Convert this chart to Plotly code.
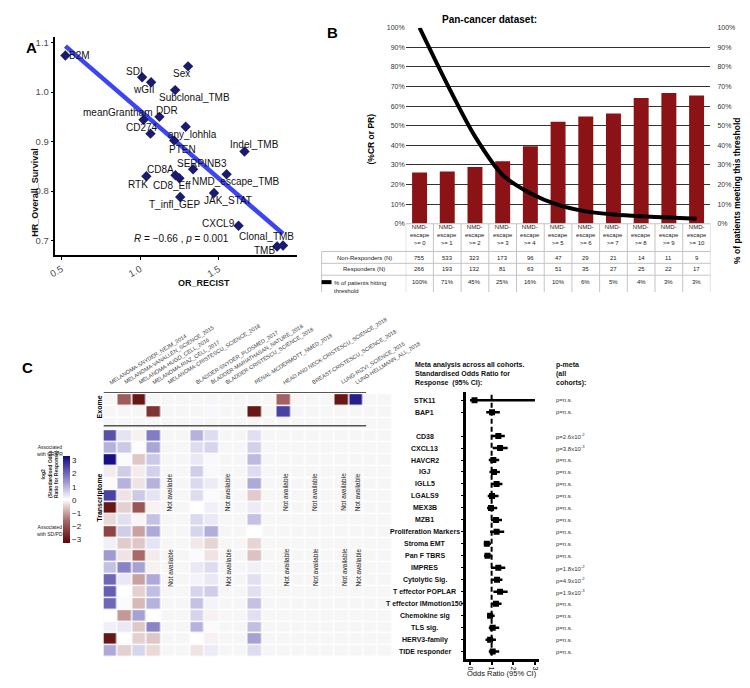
import numpy as np
import plotly.graph_objects as go

W, H = 750, 688
def PX(x): return x / W
def PY(y): return 1 - y / H
ARIAL = "Liberation Sans, Arial, Helvetica, sans-serif"

# ---------------- Panel A data ----------------
a_labels = ["B2M", "SDI", "wGII", "Sex", "Subclonal_TMB", "DDR", "meanGrantham", "CD274",
            "any_lohhla", "PTEN", "Indel_TMB", "SERPINB3", "NMD_escape_TMB", "CD8A", "CD8_Eff",
            "RTK", "T_infl_GEP", "JAK_STAT", "CXCL9", "Clonal_TMB", "TMB"]
a_or_recist = [0.525, 1.013, 1.070, 1.305, 1.223, 1.123, 1.022, 1.066, 1.290, 1.217, 1.664,
               1.337, 1.550, 1.225, 1.250, 1.040, 1.255, 1.470, 1.626, 1.871, 1.909]
a_hr_os = [1.074, 1.030, 1.020, 1.052, 1.004, 0.950, 0.944, 0.916, 0.930, 0.902, 0.880,
           0.844, 0.834, 0.832, 0.826, 0.830, 0.788, 0.796, 0.730, 0.688, 0.690]
a_xticks = [0.5, 1.0, 1.5]
a_yticks = [0.7, 0.8, 0.9, 1.0, 1.1]
a_stat = "<i>R</i> = −0.66 , <i>p</i> = 0.001"

# ---------------- Panel B data ----------------
b_threshold = [0, 1, 2, 3, 4, 5, 6, 7, 8, 9, 10]
b_response_rate = [26.1, 26.6, 29.0, 31.9, 39.6, 52.0, 54.7, 56.3, 64.1, 66.7, 65.4]
b_meeting = [100.0, 71.1, 44.6, 24.9, 15.6, 9.6, 6.3, 4.7, 3.8, 3.2, 2.5]
b_nonresp = [755, 533, 323, 173, 96, 47, 29, 21, 14, 11, 9]
b_resp = [266, 193, 132, 81, 63, 51, 35, 27, 25, 22, 17]
b_meeting_label = ["100%", "71%", "45%", "25%", "16%", "10%", "6%", "5%", "4%", "3%", "3%"]
b_yticks = [0, 10, 20, 30, 40, 50, 60, 70, 80, 90, 100]

# ---------------- Panel C data ----------------
c_datasets = ["MELANOMA-SNYDER_NEJM_2014", "MELANOMA-VANALLEN_SCIENCE_2015",
              "MELANOMA-HUGO_CELL_2016", "MELANOMA-RIAZ_CELL_2017",
              "MELANOMA-CRISTESCU_SCIENCE_2018", "BLADDER-SNYDER_PLOSMED_2017",
              "BLADDER-MARIATHASAN_NATURE_2018", "BLADDER-CRISTESCU_SCIENCE_2018",
              "RENAL-MCDERMOTT_NMED_2018", "HEAD AND NECK-CRISTESCU_SCIENCE_2018",
              "BREAST-CRISTESCU_SCIENCE_2018", "LUNG-RIZVI_SCIENCE_2015", "LUNG-HELLMANN_ALL_2018"]
c_exome_genes = ["STK11", "BAP1"]
c_trans_features = ["CD38", "CXCL13", "HAVCR2", "IGJ", "IGLL5", "LGALS9", "MEX3B", "MZB1",
                    "Proliferation Markers", "Stroma EMT", "Pan F TBRS", "IMPRES", "Cytolytic Sig.",
                    "T effector POPLAR", "T effector IMmotion150", "Chemokine sig", "TLS sig.",
                    "HERV3-family", "TIDE responder"]
c_exome_stk11 = [None, -1.8, -3.0, None, None, None, None, None, None, -1.7, None, -3.0, 3.0]
c_exome_bap1 = [None, None, None, -2.5, None, None, 0.1, None, -3.0, 2.5, None, None, None]
t_mel_snyder = [2.3, 1.0, 3.2, -0.2, -0.05, 2.5, -3.0, -0.4, -2.2, 0.2, 1.3, 0.8, 2.0, 2.1, 2.0, 0.0, 0.2, -3.0, 1.1]
t_mel_vanallen = [0.35, 0.7, 0.05, 0.65, 1.0, -0.3, -0.5, 0.4, 0.65, -0.55, -0.3, 1.6, 0.3, 0.0, 0.05, -1.1, 0.3, 0.0, -0.5]
t_mel_hugo = [-0.15, 0.03, -0.6, -0.2, -0.3, 0.7, -1.9, -0.1, -1.0, -0.6, -1.6, 1.2, -1.0, -0.5, -0.75, 1.2, -0.6, -0.5, 0.55]
t_mel_riaz = [1.7, 1.15, 0.7, 0.6, 1.0, 0.35, -0.15, 0.8, 1.1, 0.35, -0.2, -0.15, 1.1, 0.85, 1.0, 0.0, 1.6, -0.6, -0.4]
t_bla_snyder = [1.0, 0.45, 0.3, 0.65, 0.5, 0.45, 0.0, 0.5, 0.55, -0.25, 0.05, 0.3, 0.15, 0.55, 0.8, 0.55, 1.0, 0.0, -0.3]
t_bla_mariathasan = [0.45, 0.55, 0.08, 0.08, 0.25, 0.05, 0.2, 0.3, 1.05, -0.45, -0.3, 0.45, 0.3, 0.65, 0.15, -0.15, -0.05, -0.15, 0.25]
t_renal = [0.4, 0.6, 0.9, 0.45, 1.1, -0.55, 0.25, 0.8, 0.0, -0.45, -0.65, 0.2, 0.4, 0.4, 0.8, 0.4, 0.85, 1.2, 0.45]
t_na = [None] * 19
c_trans = [t_mel_snyder, t_mel_vanallen, t_mel_hugo, t_mel_riaz, t_na, t_bla_snyder,
           t_bla_mariathasan, t_na, t_renal, t_na, t_na, t_na, t_na]
c_scale_ticks = [3, 2, 1, 0, -1, -2, -3]

# forest (meta-analysis)
f_or = [0.21, 1.02, 1.31, 1.39, 1.08, 1.11, 1.23, 1.02, 0.97, 1.20, 1.23, 0.78, 0.81, 1.31,
        1.25, 1.39, 1.20, 0.93, 1.05, 0.93, 1.05]
f_lo = [0.0, 0.75, 0.97, 1.05, 0.87, 0.90, 0.97, 0.82, 0.79, 0.97, 0.93, 0.64, 0.65, 0.97,
        0.97, 1.08, 0.97, 0.79, 0.87, 0.72, 0.87]
f_hi = [3.0, 1.38, 1.61, 1.74, 1.35, 1.38, 1.50, 1.32, 1.26, 1.48, 1.58, 0.97, 1.02, 1.63,
        1.50, 1.74, 1.46, 1.14, 1.35, 1.20, 1.35]
f_p = ["p=n.s.", "p=n.s.", "p=2.6x10<sup>-2</sup>", "p=3.8x10<sup>-3</sup>", "p=n.s.", "p=n.s.",
       "p=n.s.", "p=n.s.", "p=n.s.", "p=n.s.", "p=n.s.", "p=n.s.", "p=n.s.",
       "p=1.8x10<sup>-2</sup>", "p=4.9x10<sup>-2</sup>", "p=1.9x10<sup>-3</sup>", "p=n.s.",
       "p=n.s.", "p=n.s.", "p=n.s.", "p=n.s."]
f_xticks = [0, 1, 2, 3]

# ---------------- layout helpers (positions / styles) ----------------
a_lab_dx = [14, -8, -7, -7, 19, 8, -26, -8, 7, 8, 10, 9, 9, -15, -7, -8, -6, 14, -20, -11, -19]
a_lab_dy = [0, 6, -7, -7, -7, 6, 7, 6, -8, -9, 7, 6, -7, 6, -7, -8, -7, -7, 2, 10, -5]
c_col_slots = [0, 1, 2, 3, 4, 6, 7, 8, 10, 12, 14, 16, 17]
n_grid_cols = 20
exome_pos = [-3, -2]
blank_pos = [-1]
trans_pos = list(range(19))
row_pos = exome_pos + blank_pos + trans_pos
Y_RANGE = [18.64, -3.68]

fig = go.Figure()
ann = []
shapes = []

# ================= Panel A =================
slope, icpt = np.polyfit(a_or_recist, a_hr_os, 1)
xl = [min(a_or_recist), max(a_or_recist)]
fig.add_trace(go.Scatter(x=xl, y=[icpt + slope * v for v in xl], mode="lines",
                         line=dict(color="#3b45f2", width=4.5), xaxis="x", yaxis="y",
                         hoverinfo="skip"))
fig.add_trace(go.Scatter(x=a_or_recist, y=a_hr_os, mode="markers",
                         marker=dict(symbol="diamond", size=8, color="#1a1a6e"),
                         xaxis="x", yaxis="y"))
for lab, xv, yv, dx, dy in zip(a_labels, a_or_recist, a_hr_os, a_lab_dx, a_lab_dy):
    ann.append(dict(x=xv, y=yv, xref="x", yref="y", text=lab, showarrow=False,
                    xshift=dx, yshift=dy, font=dict(family=ARIAL, size=10, color="#111")))
ann.append(dict(x=PX(125), y=PY(237), xref="paper", yref="paper", text=a_stat, showarrow=False,
                font=dict(family=ARIAL, size=10, color="#111")))
ann.append(dict(x=PX(20), y=PY(143), xref="paper", yref="paper", text="<b>HR_Overall_Survival</b>",
                textangle=-90, showarrow=False, font=dict(family=ARIAL, size=9, color="#111")))
ann.append(dict(x=PX(170), y=PY(282), xref="paper", yref="paper", text="<b>OR_RECIST</b>",
                showarrow=False, font=dict(family=ARIAL, size=9, color="#111")))

# ================= Panel B =================
fig.add_trace(go.Bar(x=list(range(len(b_threshold))), y=b_response_rate, width=0.54,
                     marker=dict(color="#8b1316", line=dict(width=0)), xaxis="x2", yaxis="y2"))
fig.add_trace(go.Scatter(x=list(range(len(b_threshold))), y=b_meeting, mode="lines",
                         line=dict(color="black", width=4, shape="spline", smoothing=0.8),
                         xaxis="x2", yaxis="y3"))
ann.append(dict(x=PX(487), y=PY(8), xref="paper", yref="paper", text="<b>Pan-cancer dataset:</b>",
                showarrow=False, font=dict(family=ARIAL, size=10, color="black")))
ann.append(dict(x=PX(367), y=PY(109), xref="paper", yref="paper", text="<b>(%CR or PR)</b>",
                textangle=-90, showarrow=False, font=dict(family=ARIAL, size=8.5, color="black")))
ann.append(dict(x=PX(744), y=PY(113), xref="paper", yref="paper",
                text="<b>% of patients meeting this threshold</b>", textangle=-90, showarrow=False,
                font=dict(family=ARIAL, size=8.5, color="black")))
TF = dict(family=ARIAL, size=6, color="#222")
gl = "#c4c4c4"
for i, t in enumerate(b_threshold):
    ann.append(dict(x=i, y=PY(233), xref="x2", yref="paper", text=f"NMD-<br>escape<br>>= {t}",
                    showarrow=False, font=TF))
    ann.append(dict(x=i, y=PY(257), xref="x2", yref="paper", text=str(b_nonresp[i]),
                    showarrow=False, font=TF))
    ann.append(dict(x=i, y=PY(268), xref="x2", yref="paper", text=str(b_resp[i]),
                    showarrow=False, font=TF))
    ann.append(dict(x=i, y=PY(281), xref="x2", yref="paper", text=b_meeting_label[i],
                    showarrow=False, font=TF))
for i in range(len(b_threshold) + 1):
    shapes.append(dict(type="line", xref="x2", yref="paper", x0=i - 0.5, x1=i - 0.5,
                       y0=PY(222), y1=PY(291), line=dict(color=gl, width=1)))
shapes.append(dict(type="line", xref="paper", yref="paper", x0=PX(317), x1=PX(317),
                   y0=PY(250), y1=PY(291), line=dict(color=gl, width=1)))
for yy, x0 in [(222, 402), (250, 317), (262, 317), (274, 317)]:
    shapes.append(dict(type="line", xref="paper", yref="paper", x0=PX(x0), x1=PX(710),
                       y0=PY(yy), y1=PY(yy), line=dict(color=gl, width=1)))
shapes.append(dict(type="line", xref="paper", yref="paper", x0=PX(317), x1=PX(327),
                   y0=PY(281), y1=PY(281), line=dict(color="black", width=4)))
ann.append(dict(x=PX(360), y=PY(257), xref="paper", yref="paper", text="Non-Responders (N)",
                showarrow=False, font=TF))
ann.append(dict(x=PX(360), y=PY(268), xref="paper", yref="paper", text="Responders (N)",
                showarrow=False, font=TF))
ann.append(dict(x=PX(327), y=PY(277), xref="paper", yref="paper", xanchor="left", yanchor="top",
                align="left", text="% of patients hitting<br>threshold", showarrow=False, font=TF))

# ================= Panel C heatmap =================
z_bg = [[1] * n_grid_cols for _ in row_pos]
fig.add_trace(go.Heatmap(z=z_bg, x=list(range(n_grid_cols)), y=row_pos,
                         colorscale=[[0, "#f6f6f6"], [1, "#f6f6f6"]], showscale=False,
                         xgap=1.5, ygap=1.5, hoverinfo="skip", xaxis="x4", yaxis="y4"))
z = [[None] * n_grid_cols for _ in row_pos]
for d, col in enumerate(c_col_slots):
    z[0][col] = c_exome_stk11[d]
    z[1][col] = c_exome_bap1[d]
    for r in range(len(c_trans_features)):
        z[3 + r][col] = c_trans[d][r]
fig.add_trace(go.Heatmap(
    z=z, x=list(range(n_grid_cols)), y=row_pos, zmin=-3.3, zmax=3.3,
    colorscale=[[0, "#5a0606"], [0.25, "#a66464"], [0.5, "#ffffff"], [0.75, "#8580c4"],
                [1, "#12087e"]],
    xgap=1.5, ygap=1.5, xaxis="x4", yaxis="y4",
    colorbar=dict(x=PX(45), xanchor="left", y=PY(501), yanchor="middle", len=108 / H,
                  lenmode="fraction", thickness=7, outlinewidth=0, tickvals=c_scale_ticks,
                  ticktext=[("−" + str(-v)) if v < 0 else str(v) for v in c_scale_ticks],
                  ticks="", tickfont=dict(family=ARIAL, size=8, color="#222"))))
for d, col in enumerate(c_col_slots):
    ann.append(dict(x=col, y=PY(388), xref="x4", yref="paper", xanchor="left", yanchor="bottom",
                    xshift=-5, text=c_datasets[d], textangle=-32, showarrow=False,
                    font=dict(family=ARIAL, size=5.5, color="#333")))
    if all(v is None for v in c_trans[d]):
        for yy in (4.67, 10.95):
            ann.append(dict(x=col, y=yy, xref="x4", yref="y4", xshift=2, text="Not available",
                            textangle=-90, showarrow=False,
                            font=dict(family=ARIAL, size=6.5, color="#222")))
shapes.append(dict(type="line", xref="x4", yref="y4", x0=-0.5, x1=17.68, y0=-3.66, y1=-3.66,
                   line=dict(color="#555", width=1.5)))
shapes.append(dict(type="line", xref="x4", yref="y4", x0=-0.5, x1=17.68, y0=-0.87, y1=-0.87,
                   line=dict(color="#555", width=1.5)))
ann.append(dict(x=PX(87), y=PY(407), xref="paper", yref="paper", text="<b>Exome</b>",
                textangle=-90, showarrow=False, font=dict(family=ARIAL, size=7, color="black")))
ann.append(dict(x=PX(87), y=PY(525), xref="paper", yref="paper", text="<b>Transcriptome</b>",
                textangle=-90, showarrow=False, font=dict(family=ARIAL, size=7, color="black")))
SF = dict(family=ARIAL, size=5, color="#222")
ann.append(dict(x=PX(27), y=PY(460), xref="paper", yref="paper", text="Associated<br>with CR/PR",
                showarrow=False, font=SF))
ann.append(dict(x=PX(31), y=PY(501), xref="paper", yref="paper",
                text="<b>log2<br>(Standardised Odds<br>Ratio for Response)</b>", textangle=-90,
                showarrow=False, font=SF))
ann.append(dict(x=PX(27), y=PY(540), xref="paper", yref="paper", text="Associated<br>with SD/PD",
                showarrow=False, font=SF))

# ================= Panel C forest =================
f_rows = c_exome_genes + c_trans_features
f_pos = exome_pos + trans_pos
fig.add_trace(go.Scatter(
    x=f_or, y=f_pos, mode="markers", xaxis="x5", yaxis="y5",
    marker=dict(symbol="square", size=6, color="black"),
    error_x=dict(type="data", symmetric=False, array=[h - o for h, o in zip(f_hi, f_or)],
                 arrayminus=[o - l for o, l in zip(f_or, f_lo)], thickness=2.5, width=0,
                 color="black")))
shapes.append(dict(type="line", xref="x5", yref="y5", x0=1, x1=1, y0=-3.45, y1=18.5,
                   line=dict(color="black", width=2, dash="5px,3px"), layer="below"))
for name, yv, pv in zip(f_rows, f_pos, f_p):
    ann.append(dict(x=PX(421), y=yv, xref="paper", yref="y5", text=f"<b>{name}</b>",
                    showarrow=False, font=dict(family=ARIAL, size=7, color="#111")))
    ann.append(dict(x=PX(552), y=yv, xref="paper", yref="y5", xanchor="left", text=pv,
                    showarrow=False, font=dict(family=ARIAL, size=6, color="#333")))
ann.append(dict(x=PX(409), y=PY(374), xref="paper", yref="paper", xanchor="left", align="left",
                text="<b>Meta analysis across all cohorts.<br>Standardised Odds Ratio for<br>Response  (95% CI):</b>",
                showarrow=False, font=dict(family=ARIAL, size=7, color="#111")))
ann.append(dict(x=PX(552), y=PY(374), xref="paper", yref="paper", xanchor="left", align="left",
                text="<b>p-meta<br>(all<br>cohorts):</b>", showarrow=False,
                font=dict(family=ARIAL, size=7, color="#111")))
ann.append(dict(x=PX(499), y=PY(683), xref="paper", yref="paper", text="Odds Ratio (95% CI)",
                showarrow=False, font=dict(family=ARIAL, size=7.5, color="#111")))

# panel letters
for letter, xx, yy in [("A", 16, 33), ("B", 328, 18), ("C", 12, 367)]:
    ann.append(dict(x=PX(xx), y=PY(yy), xref="paper", yref="paper", text=f"<b>{letter}</b>",
                    showarrow=False, font=dict(family=ARIAL, size=15, color="black")))

axis_a = dict(showline=True, linecolor="black", linewidth=1.5, ticks="outside", ticklen=3,
              tickcolor="black", tickfont=dict(family=ARIAL, size=9.5, color="#4d4d4d"),
              showgrid=False, zeroline=False)
b_ticktext = [f"{v}%" for v in b_yticks]
fig.update_layout(
    width=W, height=H, margin=dict(l=0, r=0, t=0, b=0), showlegend=False,
    paper_bgcolor="white", plot_bgcolor="white", font=dict(family=ARIAL),
    xaxis=dict(domain=[PX(48), PX(292)], range=[0.462, 1.997], tickvals=a_xticks,
               ticktext=["0.5", "1.0", "1.5"], tickangle=-30, anchor="y", **axis_a),
    yaxis=dict(domain=[PY(254), PY(33)], range=[0.67, 1.112], tickvals=a_yticks,
               ticktext=["0.7", "0.8", "0.9", "1.0", "1.1"], anchor="x", **axis_a),
    xaxis2=dict(domain=[PX(402), PX(710)], range=[-0.5, 10.5], showticklabels=False,
                showline=False, ticks="", showgrid=False, zeroline=False, anchor="y2"),
    yaxis2=dict(domain=[PY(222), PY(24)], range=[0, 100], tickvals=b_yticks, ticktext=b_ticktext,
                tickfont=dict(family=ARIAL, size=7, color="#333"), showgrid=True,
                gridcolor="#333", gridwidth=0.8, zeroline=False, showline=False, ticks="",
                anchor="x2"),
    yaxis3=dict(overlaying="y2", side="right", range=[0, 100], tickvals=b_yticks,
                ticktext=b_ticktext, tickfont=dict(family=ARIAL, size=7, color="#333"),
                showgrid=False, zeroline=False, showline=False, ticks="", anchor="x2",
                ticklabelstandoff=6),
    xaxis4=dict(domain=[PX(96.5), PX(388.5)], range=[-0.5, 19.5], visible=False, anchor="y4"),
    yaxis4=dict(domain=[PY(662), PY(392)], range=Y_RANGE, visible=False, anchor="x4"),
    xaxis5=dict(domain=[PX(463), PX(537)], range=[-0.18, 3.2], tickvals=f_xticks, tickangle=90,
                showline=True, linecolor="black", linewidth=2.5, ticks="outside", ticklen=3,
                tickwidth=1.5, tickcolor="black", tickfont=dict(family=ARIAL, size=7, color="#111"),
                showgrid=False, zeroline=False, anchor="y5"),
    yaxis5=dict(domain=[PY(662), PY(392)], range=Y_RANGE, tickvals=f_pos, showticklabels=False,
                ticks="outside", ticklen=2, tickcolor="black", showline=True, linecolor="black",
                linewidth=2.5, showgrid=False, zeroline=False, anchor="x5"),
    annotations=ann, shapes=shapes,
)
fig.write_html("out.html", config={"displayModeBar": False},
               post_script="document.body.style.margin='0';document.body.style.overflow='hidden';")
